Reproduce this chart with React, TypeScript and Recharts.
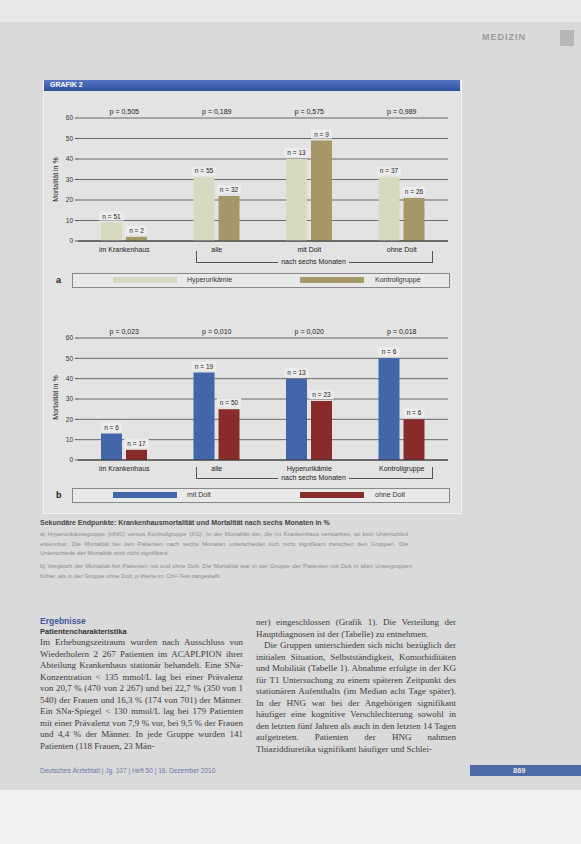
import React from "react";
import { BarChart, Bar, XAxis, YAxis, CartesianGrid, LabelList } from "recharts";

// Grafik 2a – Hyperurikämie vs. Kontrollgruppe
const categoriesA = ["im Krankenhaus", "alle", "mit Dolt", "ohne Dolt"];
const pValuesA = ["p = 0,505", "p = 0,189", "p = 0,575", "p = 0,989"];
const hyperurikaemie = [9, 31, 40, 31];
const kontrollgruppe = [2, 22, 49, 21];
const nHyperurikaemie = [51, 55, 13, 37];
const nKontrollgruppe = [2, 32, 9, 26];

// Grafik 2b – mit Dolt vs. ohne Dolt
const categoriesB = ["im Krankenhaus", "alle", "Hyperurikämie", "Kontrollgruppe"];
const pValuesB = ["p = 0,023", "p = 0,010", "p = 0,020", "p = 0,018"];
const mitDolt = [13, 43, 40, 50];
const ohneDolt = [5, 25, 29, 20];
const nMitDolt = [6, 19, 13, 6];
const nOhneDolt = [17, 50, 23, 6];

const yTicks = [0, 10, 20, 30, 40, 50, 60];

const dataA = categoriesA.map((cat, i) => ({
  cat,
  p: pValuesA[i],
  first: hyperurikaemie[i],
  second: kontrollgruppe[i],
  nFirst: `n = ${nHyperurikaemie[i]}`,
  nSecond: `n = ${nKontrollgruppe[i]}`,
}));

const dataB = categoriesB.map((cat, i) => ({
  cat,
  p: pValuesB[i],
  first: mitDolt[i],
  second: ohneDolt[i],
  nFirst: `n = ${nMitDolt[i]}`,
  nSecond: `n = ${nOhneDolt[i]}`,
}));

const sans = "'Liberation Sans', Arial, sans-serif";
const serif = "'Liberation Serif', 'DejaVu Serif', serif";
const panelBg = "#e3e3e3";

// n-label above a bar, kept on one line
function NLabel(props: any) {
  const { x, y, width, value } = props;
  const cx = Number(x) + Number(width) / 2;
  const w = String(value).length * 3.4 + 4;
  return (
    <g>
      <rect x={cx - w / 2} y={Number(y) - 11} width={w} height={9} fill="#ececec" />
      <text x={cx} y={Number(y) - 4} textAnchor="middle" fontSize={6.5} fill="#222" fontFamily={sans}>
        {value}
      </text>
    </g>
  );
}

function MortalityChart({ data, colors, height, top }: any) {
  return (
    <BarChart
      width={416}
      height={height}
      data={data}
      margin={{ top, right: 12, left: 0, bottom: 0 }}
      barSize={21}
      barGap={4}
      barCategoryGap="20%"
    >
      <CartesianGrid vertical={false} stroke="#4a4a4a" strokeWidth={0.8} />
      <XAxis
        xAxisId="top"
        orientation="top"
        dataKey="p"
        height={16}
        tickLine={false}
        axisLine={false}
        tickSize={2}
        tick={{ fontSize: 7, fill: "#222", fontFamily: sans }}
        interval={0}
      />
      <XAxis
        dataKey="cat"
        height={16}
        tickLine={false}
        axisLine={{ stroke: "#333" }}
        tickSize={4}
        tick={{ fontSize: 7, fill: "#222", fontFamily: sans }}
        interval={0}
      />
      <YAxis
        width={34}
        domain={[0, 60]}
        ticks={yTicks}
        interval={0}
        axisLine={false}
        tickSize={3}
        tickLine={{ stroke: "#555" }}
        tick={{ fontSize: 6.5, fill: "#333", fontFamily: sans }}
      />
      <Bar dataKey="first" fill={colors[0]} isAnimationActive={false}>
        <LabelList dataKey="nFirst" content={NLabel} />
      </Bar>
      <Bar dataKey="second" fill={colors[1]} isAnimationActive={false}>
        <LabelList dataKey="nSecond" content={NLabel} />
      </Bar>
    </BarChart>
  );
}

function Bracket({ top }: { top: number }) {
  return (
    <div style={{ position: "absolute", left: 196, top, width: 235, height: 12 }}>
      <div style={{ position: "absolute", left: 0, top: 0, width: 235, height: 11, borderLeft: "1px solid #555", borderRight: "1px solid #555", borderBottom: "1px solid #555" }} />
      <div style={{ position: "absolute", left: 0, width: 235, top: 7, textAlign: "center", fontFamily: sans, fontSize: 7, color: "#222" }}>
        <span style={{ background: panelBg, padding: "0 3px" }}>nach sechs Monaten</span>
      </div>
    </div>
  );
}

function LegendRow({ top, letter, items }: any) {
  return (
    <>
      <div style={{ position: "absolute", left: 56, top: top + 2, fontFamily: sans, fontSize: 9, fontWeight: "bold", color: "#222" }}>{letter}</div>
      <div style={{ position: "absolute", left: 72, top, width: 376, height: 13, border: "1px solid #888", background: "#e9e9e9" }}>
        {items.map((it: any, i: number) => (
          <React.Fragment key={it.label}>
            <div style={{ position: "absolute", left: i === 0 ? 40 : 227, top: 3, width: 64, height: 6, background: it.color }} />
            <div style={{ position: "absolute", left: i === 0 ? 114 : 302, top: 2, fontFamily: sans, fontSize: 7, color: "#333" }}>{it.label}</div>
          </React.Fragment>
        ))}
      </div>
    </>
  );
}

function YLabel({ x, y }: { x: number; y: number }) {
  return (
    <div style={{ position: "absolute", left: x - 40, top: y - 5, width: 80, textAlign: "center", transform: "rotate(-90deg)", fontFamily: sans, fontSize: 7, color: "#222" }}>
      Mortalität in %
    </div>
  );
}

const colA = ["#d6d9bd", "#a69768"];
const colB = ["#4365aa", "#8a2b2b"];

const leftText =
  "Im Erhebungszeitraum wurden nach Ausschluss von Wiederholern 2 267 Patienten im ACAPLPION ihrer Abteilung Krankenhaus stationär behandelt. Eine SNa-Konzentration < 135 mmol/L lag bei einer Prävalenz von 20,7 % (470 von 2 267) und bei 22,7 % (350 von 1 540) der Frauen und 16,3 % (174 von 701) der Männer. Ein SNa-Spiegel < 130 mmol/L lag bei 179 Patienten mit einer Prävalenz von 7,9 % vor, bei 9,5 % der Frauen und 4,4 % der Männer. In jede Gruppe wurden 141 Patienten (118 Frauen, 23 Män-";
const rightText1 = "ner) eingeschlossen (Grafik 1). Die Verteilung der Hauptdiagnosen ist der (Tabelle) zu entnehmen.";
const rightText2 =
  "Die Gruppen unterschieden sich nicht bezüglich der initialen Situation, Selbstständigkeit, Komorbiditäten und Mobilität (Tabelle 1). Abnahme erfolgte in der KG für T1 Untersuchung zu einem späteren Zeitpunkt des stationären Aufenthalts (im Median acht Tage später). In der HNG war bei der Angehörigen signifikant häufiger eine kognitive Verschlechterung sowohl in den letzten fünf Jahren als auch in den letzten 14 Tagen aufgetreten. Patienten der HNG nahmen Thiaziddiuretika signifikant häufiger und Schlei-";

export default function App() {
  return (
    <div style={{ position: "absolute", left: 0, top: 0, width: 581, height: 844, background: "#dadada", overflow: "hidden" }}>
      {/* page head */}
      <div style={{ position: "absolute", left: 0, top: 0, width: 581, height: 22, background: "#e8e8e8" }} />
      <div style={{ position: "absolute", left: 482, top: 32, fontFamily: sans, fontSize: 9, letterSpacing: 1, color: "#9a9a9a", fontWeight: "bold" }}>MEDIZIN</div>
      <div style={{ position: "absolute", left: 560, top: 30, width: 14, height: 16, background: "#b8b8b8" }} />

      {/* Grafik panel */}
      <div style={{ position: "absolute", left: 43, top: 80, width: 417, height: 432, background: panelBg, border: "1px solid #f3f3f3" }} />
      <div style={{ position: "absolute", left: 44, top: 80, width: 416, height: 11, background: "linear-gradient(#5577c4, #2f4f9c)" }} />
      <div style={{ position: "absolute", left: 50, top: 81, fontFamily: sans, fontSize: 7, fontWeight: "bold", color: "#fff" }}>GRAFIK 2</div>

      <div style={{ position: "absolute", left: 44, top: 96 }}>
        <MortalityChart data={dataA} colors={colA} height={161} top={6} />
      </div>
      <YLabel x={55} y={181} />
      <Bracket top={251} />
      <LegendRow top={273} letter="a" items={[{ label: "Hyperurikämie", color: colA[0] }, { label: "Kontrollgruppe", color: colA[1] }]} />

      <div style={{ position: "absolute", left: 44, top: 318 }}>
        <MortalityChart data={dataB} colors={colB} height={158} top={4} />
      </div>
      <YLabel x={55} y={399} />
      <Bracket top={467} />
      <LegendRow top={488} letter="b" items={[{ label: "mit Dolt", color: colB[0] }, { label: "ohne Dolt", color: colB[1] }]} />

      {/* caption */}
      <div style={{ position: "absolute", left: 40, top: 519, fontFamily: sans, fontSize: 7, fontWeight: "bold", color: "#444" }}>
        Sekundäre Endpunkte: Krankenhausmortalität und Mortalität nach sechs Monaten in %
      </div>
      <div style={{ position: "absolute", left: 40, top: 530, width: 368, fontFamily: sans, fontSize: 6, lineHeight: "9.5px", color: "#8c8c8c", textAlign: "justify" }}>
        a) Hyperurikämiegruppe (HNG) versus Kontrollgruppe (KG). In der Mortalität der, die im Krankenhaus verstarben, ist kein Unterschied erkennbar. Die Mortalität bei den Patienten nach sechs Monaten unterscheidet sich nicht signifikant zwischen den Gruppen. Die Unterschiede der Mortalität sind nicht signifikant.
      </div>
      <div style={{ position: "absolute", left: 40, top: 562, width: 372, fontFamily: sans, fontSize: 6, lineHeight: "9.5px", color: "#8c8c8c", textAlign: "justify" }}>
        b) Vergleich der Mortalität bei Patienten mit und ohne Dolt. Die Mortalität war in der Gruppe der Patienten mit Dolt in allen Untergruppen höher, als in der Gruppe ohne Dolt; p-Werte im Chi²-Test dargestellt.
      </div>

      {/* body text */}
      <div style={{ position: "absolute", left: 40, top: 616, fontFamily: sans, fontSize: 8.5, fontWeight: "bold", color: "#4055a0" }}>Ergebnisse</div>
      <div style={{ position: "absolute", left: 40, top: 627, fontFamily: sans, fontSize: 7.5, fontWeight: "bold", color: "#333" }}>Patientencharakteristika</div>
      <div style={{ position: "absolute", left: 40, top: 637, width: 203, fontFamily: serif, fontSize: 9, lineHeight: "11.5px", color: "#3c3c3c", textAlign: "justify", hyphens: "auto" }}>
        {leftText}
      </div>
      <div style={{ position: "absolute", left: 256, top: 617, width: 200, fontFamily: serif, fontSize: 9, lineHeight: "11.5px", color: "#3c3c3c", textAlign: "justify" }}>
        {rightText1}
        <div style={{ textIndent: 8 }}>{rightText2}</div>
      </div>

      {/* footer */}
      <div style={{ position: "absolute", left: 40, top: 767, fontFamily: sans, fontSize: 6.5, color: "#6a78aa" }}>
        Deutsches Ärzteblatt | Jg. 107 | Heft 50 | 16. Dezember 2010
      </div>
      <div style={{ position: "absolute", left: 470, top: 765, width: 111, height: 11, background: "#4d6ba8" }} />
      <div style={{ position: "absolute", left: 513, top: 766, fontFamily: sans, fontSize: 7.5, fontWeight: "bold", color: "#e8e8e8" }}>869</div>
      <div style={{ position: "absolute", left: 0, top: 790, width: 581, height: 54, background: "#f1f1f1" }} />
    </div>
  );
}
